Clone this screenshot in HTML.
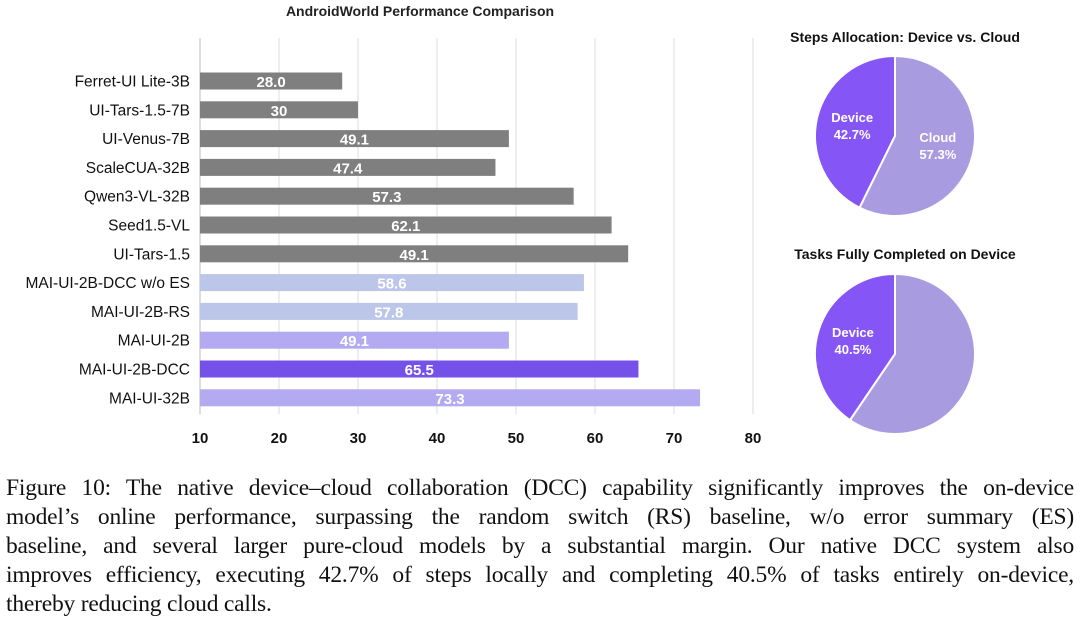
<!DOCTYPE html>
<html><head><meta charset="utf-8"><style>
body{margin:0;width:1080px;height:640px;background:#fff;overflow:hidden;font-family:"Liberation Sans",sans-serif}
svg{position:absolute;left:0;top:0}
#cap{position:absolute;left:6px;top:474px;width:1068px;font-family:"Liberation Serif",serif;font-size:23.5px;line-height:29px;color:#111;letter-spacing:-0.2px}
#cap div{text-align:justify;text-align-last:justify;white-space:nowrap}
#cap div.last{text-align-last:left}
</style></head><body>
<svg width="1080" height="470" id="svg"></svg>
<div id="cap">
<div>Figure 10: The native device–cloud collaboration (DCC) capability significantly improves the on-device</div>
<div>model’s online performance, surpassing the random switch (RS) baseline, w/o error summary (ES)</div>
<div>baseline, and several larger pure-cloud models by a substantial margin. Our native DCC system also</div>
<div>improves efficiency, executing 42.7% of steps locally and completing 40.5% of tasks entirely on-device,</div>
<div class="last">thereby reducing cloud calls.</div>
</div>
<script>
const categories=["Ferret-UI Lite-3B","UI-Tars-1.5-7B","UI-Venus-7B","ScaleCUA-32B","Qwen3-VL-32B","Seed1.5-VL","UI-Tars-1.5","MAI-UI-2B-DCC w/o ES","MAI-UI-2B-RS","MAI-UI-2B","MAI-UI-2B-DCC","MAI-UI-32B"];
const values=[28.0,30,49.1,47.4,57.3,62.1,64.2,58.6,57.8,49.1,65.5,73.3];
const valueLabels=["28.0","30","49.1","47.4","57.3","62.1","49.1","58.6","57.8","49.1","65.5","73.3"];
const barColors=["#7f7f7f","#7f7f7f","#7f7f7f","#7f7f7f","#7f7f7f","#7f7f7f","#7f7f7f","#bcc6e8","#bcc6e8","#b4aaf2","#7551e9","#b4aaf2"];
const ticks=[10,20,30,40,50,60,70,80];
const pie1=[42.7,57.3];
const pie2=[40.5,59.5];
const S=document.getElementById('svg'),NS="http://www.w3.org/2000/svg";
function mk(t,a,txt){const e=document.createElementNS(NS,t);for(const k in a)e.setAttribute(k,a[k]);if(txt!=null)e.textContent=txt;S.appendChild(e);return e;}
const x=v=>200+(v-10)*7.9;
const y=i=>81+i*28.8;
let e=mk('text',{x:420,y:16,'text-anchor':'middle','font-size':14,'font-weight':'bold',fill:'#222'},"AndroidWorld Performance Comparison");

ticks.forEach(t=>{
 e=mk('line',{x1:x(t),x2:x(t),y1:38,y2:414,stroke:t==10?'#bbb':'#dedede','stroke-width':1});
 
 e=mk('text',{x:x(t),y:443,'text-anchor':'middle','font-size':15,'font-weight':'bold',fill:'#111'},t);
 
});
categories.forEach((c,i)=>{
 e=mk('text',{x:190,y:y(i)+5.5,'text-anchor':'end','font-size':15.5,fill:'#111'},c);
 
 e=mk('rect',{x:x(10),y:y(i)-8.5,width:x(values[i])-x(10),height:17,fill:barColors[i]});
 
 e=mk('text',{x:(x(10)+x(values[i]))/2,y:y(i)+6,'text-anchor':'middle','font-size':15,'font-weight':'bold',fill:'#fff'},valueLabels[i]);
 
});
function pie(cx,cy,r,vals,cols,title,ty,labels){
 e=mk('text',{x:cx+10,y:ty,'text-anchor':'middle','font-size':14,'font-weight':'bold',fill:'#111'},title);
 
 let a=0;const tot=vals.reduce((p,q)=>p+q,0);
 vals.forEach((v,i)=>{
  const a0=a,a1=a-v/tot*2*Math.PI;a=a1;
  const p0=[cx+r*Math.sin(a0),cy-r*Math.cos(a0)],p1=[cx+r*Math.sin(a1),cy-r*Math.cos(a1)];
  const large=v/tot>0.5?1:0;
  e=mk('path',{d:`M${cx},${cy}L${p0[0]},${p0[1]}A${r},${r} 0 ${large} 0 ${p1[0]},${p1[1]}Z`,fill:cols[i],stroke:'#fff','stroke-width':2});
  
  if(labels[i]){const m=(a0+a1)/2,lx=cx+r*0.55*Math.sin(m),ly=cy-r*0.55*Math.cos(m);
   e=mk('text',{x:lx,y:ly-4,'text-anchor':'middle','font-size':13,'font-weight':'bold',fill:'#fff'},labels[i]);
   
   e=mk('text',{x:lx,y:ly+13,'text-anchor':'middle','font-size':13,'font-weight':'bold',fill:'#fff'},vals[i].toFixed(1)+'%');
   }
 });
}
pie(895,136,80,pie1,["#8655f5","#a89be0"],"Steps Allocation: Device vs. Cloud",42,["Device","Cloud"]);
pie(895,354,80,pie2,["#8655f5","#a89be0"],"Tasks Fully Completed on Device",259,["Device",null]);
</script>
</body></html>
